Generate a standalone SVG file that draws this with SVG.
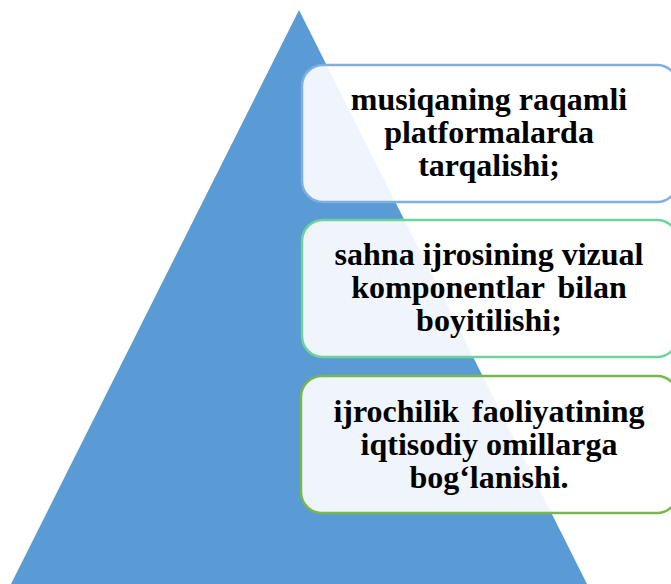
<svg xmlns="http://www.w3.org/2000/svg" width="671" height="584" viewBox="0 0 671 584">
<style>
.box{fill:#ffffff;fill-opacity:0.9;stroke-width:2.5}
</style>
<rect width="671" height="584" fill="#ffffff"/>
<g id="pyramid">
<polygon points="299,10 587,584 11,584" fill="#5B9BD5"/>
</g>
<g id="connectors"></g>
<g id="node1">
<rect class="box" x="302" y="65" width="376" height="137" rx="21" stroke="#7EAFE0"/>
<text x="489" y="110" font-family="Liberation Serif" font-weight="bold" font-size="32" text-anchor="middle">musiqaning raqamli</text>
<text x="489" y="143" font-family="Liberation Serif" font-weight="bold" font-size="32" text-anchor="middle">platformalarda</text>
<text x="489" y="176" font-family="Liberation Serif" font-weight="bold" font-size="32" text-anchor="middle">tarqalishi;</text>
</g>
<g id="node2">
<rect class="box" x="302" y="220" width="376" height="137" rx="21" stroke="#6DD39A"/>
<text x="489" y="265" font-family="Liberation Serif" font-weight="bold" font-size="32" text-anchor="middle">sahna ijrosining vizual</text>
<text x="489" y="298" font-family="Liberation Serif" font-weight="bold" font-size="32" text-anchor="middle" word-spacing="5">komponentlar bilan</text>
<text x="489" y="331" font-family="Liberation Serif" font-weight="bold" font-size="32" text-anchor="middle">boyitilishi;</text>
</g>
<g id="node3">
<rect class="box" x="301" y="376" width="377" height="137" rx="21" stroke="#76B849"/>
<text x="489" y="422" font-family="Liberation Serif" font-weight="bold" font-size="32" text-anchor="middle" word-spacing="5">ijrochilik faoliyatining</text>
<text x="489" y="455" font-family="Liberation Serif" font-weight="bold" font-size="32" text-anchor="middle">iqtisodiy omillarga</text>
<text x="489" y="488" font-family="Liberation Serif" font-weight="bold" font-size="32" text-anchor="middle">bog‘lanishi.</text>
</g>
</svg>
